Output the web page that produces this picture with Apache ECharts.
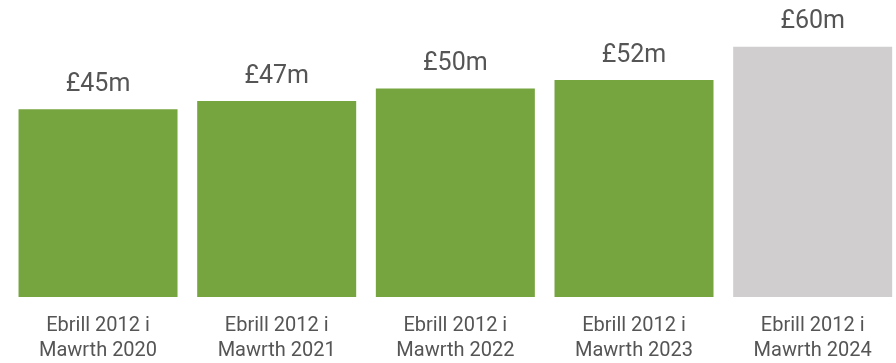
<!DOCTYPE html>
<html>
<head>
<meta charset="utf-8">
<script src="https://cdn.jsdelivr.net/npm/echarts@6/dist/echarts.min.js"></script>
<style>
  html, body { margin: 0; padding: 0; background: #fff; overflow: hidden; }
  /* last category runs past the right edge in the original, so the canvas is a bit wider */
  #chart { width: 902px; height: 363px; }
</style>
</head>
<body>
<div id="chart"></div>
<script>
const categories = [
  'Ebrill 2012 i\nMawrth 2020',
  'Ebrill 2012 i\nMawrth 2021',
  'Ebrill 2012 i\nMawrth 2022',
  'Ebrill 2012 i\nMawrth 2023',
  'Ebrill 2012 i\nMawrth 2024'
];
const values = [45, 47, 50, 52, 60];
const barColors = ['#76a540', '#76a540', '#76a540', '#76a540', '#d0cecf'];

const chart = echarts.init(document.getElementById('chart'));

const options = {
  animation: false,
  grid: { left: 8.7, right: 0, top: 46.7, bottom: 64.3 },
  xAxis: {
    type: 'category',
    data: categories,
    axisLine: { show: false },
    axisTick: { show: false },
    axisLabel: {
      color: '#555',
      fontFamily: 'Roboto',
      fontSize: 20,
      lineHeight: 25,
      margin: 16
    }
  },
  yAxis: {
    type: 'value',
    min: 0,
    max: 60,
    show: false
  },
  series: [
    {
      type: 'bar',
      barWidth: 159,
      data: values.map((v, i) => ({ value: v, itemStyle: { color: barColors[i] } })),
      label: {
        show: true,
        position: 'top',
        distance: 12,
        color: '#555',
        fontFamily: 'Roboto',
        fontSize: 25,
        formatter: p => '£' + p.value + 'm'
      }
    }
  ]
};

chart.setOption(options);
window.onresize = function () {
  chart.resize();
};
</script>
</body>
</html>
